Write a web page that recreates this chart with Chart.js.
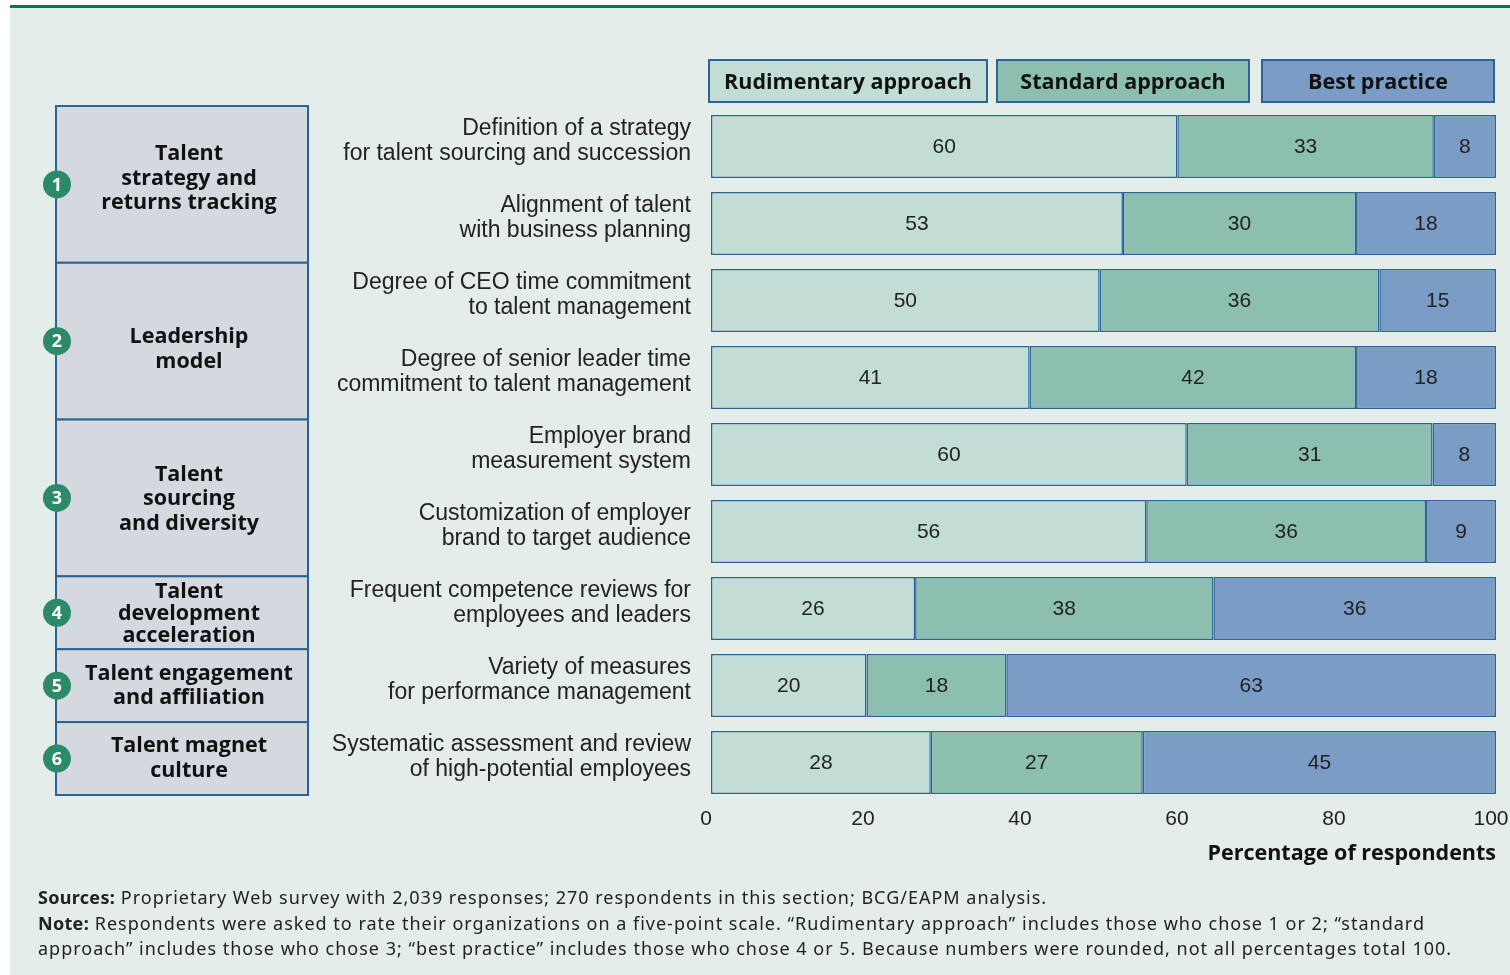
<!DOCTYPE html>
<html lang="en">
<head>
    <meta charset="utf-8" />
    <title>Talent management practices</title>
    <script src="https://cdn.jsdelivr.net/npm/chart.js"></script>
    <style>
        body { margin: 0; background: #fff; }
        #wrap { position: relative; width: 1510px; height: 975px; }
        #note {
            position: absolute; left: 38px; top: 885px; width: 1470px;
            font: 18px "Noto Sans", sans-serif; letter-spacing: 1px; line-height: 25.5px; color: #222;
        }
        #note b { font-weight: 700; letter-spacing: 0.3px; }
    </style>
</head>
<body>
<div id="wrap">
    <canvas id="myChart" width="1510" height="975"></canvas>
    <div id="note">
        <b>Sources:</b> Proprietary Web survey with 2,039 responses; 270 respondents in this section; BCG/EAPM analysis.<br>
        <b>Note:</b> Respondents were asked to rate their organizations on a five-point scale. “Rudimentary approach” includes those who chose 1 or 2; “standard<br>
        approach” includes those who chose 3; “best practice” includes those who chose 4 or 5. Because numbers were rounded, not all percentages total 100.
    </div>
</div>
<script>
    // Chart data
    const categories = [
        ["Definition of a strategy", "for talent sourcing and succession"],
        ["Alignment of talent", "with business planning"],
        ["Degree of CEO time commitment", "to talent management"],
        ["Degree of senior leader time", "commitment to talent management"],
        ["Employer brand", "measurement system"],
        ["Customization of employer", "brand to target audience"],
        ["Frequent competence reviews for", "employees and leaders"],
        ["Variety of measures", "for performance management"],
        ["Systematic assessment and review", "of high-potential employees"]
    ];
    const rudimentary = [60, 53, 50, 41, 60, 56, 26, 20, 28];
    const standard = [33, 30, 36, 42, 31, 36, 38, 18, 27];
    const bestPractice = [8, 18, 15, 18, 8, 9, 36, 63, 45];
    const seriesNames = ["Rudimentary approach", "Standard approach", "Best practice"];
    const tickValues = [0, 20, 40, 60, 80, 100];
    const axisTitle = "Percentage of respondents";

    // left-hand groups: label lines and how many rows each spans
    const groupLabels = [
        ["Talent", "strategy and", "returns tracking"],
        ["Leadership", "model"],
        ["Talent", "sourcing", "and diversity"],
        ["Talent", "development", "acceleration"],
        ["Talent engagement", "and affiliation"],
        ["Talent magnet", "culture"]
    ];
    const groupRows = [2, 2, 2, 1, 1, 1];

    const colors = ['#c2ddd6', '#8dbfb1', '#7b9cc4'];
    const edge = '#2a6496';
    const boldFont = '"Open Sans", sans-serif';
    const plainFont = '"Liberation Sans", Arial, sans-serif';

    // bars are drawn as shares of each row's total, so every row fills the width
    const totals = rudimentary.map((v, i) => v + standard[i] + bestPractice[i]);
    const share = arr => arr.map((v, i) => v / totals[i] * 100);

    const background = {
        id: 'background',
        beforeDraw(chart) {
            const ctx = chart.ctx;
            ctx.save();
            ctx.fillStyle = '#fff';
            ctx.fillRect(0, 0, chart.width, chart.height);
            ctx.fillStyle = '#e4edea';
            ctx.fillRect(10, 8, chart.width - 10, chart.height - 8);
            ctx.fillStyle = '#0b7350';
            ctx.fillRect(10, 5, chart.width - 10, 3);
            ctx.restore();
        }
    };

    const legendBoxes = {
        id: 'legendBoxes',
        afterDraw(chart) {
            const ctx = chart.ctx;
            const ca = chart.chartArea;
            const widths = [278, 252, 232];
            const gaps = [10, 13];
            let x = ca.left - 2;
            ctx.save();
            ctx.font = '700 21.5px ' + boldFont;
            ctx.textAlign = 'center';
            ctx.textBaseline = 'middle';
            seriesNames.forEach((name, i) => {
                ctx.fillStyle = colors[i];
                ctx.fillRect(x, 60, widths[i], 42);
                ctx.strokeStyle = edge;
                ctx.lineWidth = 2;
                ctx.strokeRect(x, 60, widths[i], 42);
                ctx.fillStyle = '#111';
                ctx.fillText(name, x + widths[i] / 2, 83);
                x += widths[i] + (gaps[i] || 0);
            });
            ctx.restore();
        }
    };

    const groupBoxes = {
        id: 'groupBoxes',
        afterDraw(chart) {
            const ctx = chart.ctx;
            const ca = chart.chartArea;
            // two-row boxes are a little taller than single-row ones
            const weights = groupRows.map(r => r === 1 ? 73 : 157);
            const top0 = ca.top - 2;
            const span = ca.bottom - 6 - top0;
            const sum = weights.reduce((a, b) => a + b, 0);
            const textShift = [-6, 8, 1, 1, 0, 0];
            let top = top0;
            ctx.save();
            groupLabels.forEach((lines, g) => {
                const h = weights[g] / sum * span;
                const bottom = top + h;
                ctx.fillStyle = '#d3d9de';
                ctx.fillRect(56, top, 252, h);
                ctx.strokeStyle = edge;
                ctx.lineWidth = 2;
                ctx.strokeRect(56, top, 252, h);
                const mid = (top + bottom) / 2;
                const lh = Math.min(24.5, (h - 6) / lines.length);
                ctx.fillStyle = '#111';
                ctx.font = '700 21.5px ' + boldFont;
                ctx.textAlign = 'center';
                ctx.textBaseline = 'middle';
                lines.forEach((t, k) => {
                    ctx.fillText(t, 189, mid + textShift[g] + (k - (lines.length - 1) / 2) * lh);
                });
                ctx.beginPath();
                ctx.arc(57, mid, 14, 0, Math.PI * 2);
                ctx.fillStyle = '#2c8a68';
                ctx.fill();
                ctx.fillStyle = '#fff';
                ctx.font = 'bold 18px ' + boldFont;
                ctx.fillText(String(g + 1), 57, mid + 1);
                top = bottom;
            });
            ctx.restore();
        }
    };

    const valueLabels = {
        id: 'valueLabels',
        afterDatasetsDraw(chart) {
            const ctx = chart.ctx;
            ctx.save();
            ctx.font = '21px ' + plainFont;
            ctx.fillStyle = '#222';
            ctx.textAlign = 'center';
            ctx.textBaseline = 'middle';
            chart.data.datasets.forEach((ds, d) => {
                chart.getDatasetMeta(d).data.forEach((bar, i) => {
                    ctx.fillText(String(ds.values[i]), (bar.x + bar.base) / 2, bar.y + 1);
                });
            });
            ctx.restore();
        }
    };

    const ctx = document.getElementById('myChart').getContext('2d');
    const myChart = new Chart(ctx, {
        type: 'bar',
        data: {
            labels: categories,
            datasets: [
                { label: seriesNames[0], data: share(rudimentary), values: rudimentary, backgroundColor: colors[0] },
                { label: seriesNames[1], data: share(standard), values: standard, backgroundColor: colors[1] },
                { label: seriesNames[2], data: share(bestPractice), values: bestPractice, backgroundColor: colors[2] }
            ].map(ds => Object.assign(ds, {
                borderColor: edge,
                borderWidth: 1.5,
                borderSkipped: false,
                barPercentage: 0.82,
                categoryPercentage: 1
            }))
        },
        options: {
            indexAxis: 'y',
            responsive: false,
            animation: false,
            devicePixelRatio: 1,
            layout: { padding: { top: 108, left: 0, right: 14, bottom: 108 } },
            plugins: {
                legend: { display: false },
                title: { display: false },
                tooltip: { enabled: false }
            },
            scales: {
                x: {
                    stacked: true,
                    min: 0,
                    max: 100,
                    grid: { display: false, drawTicks: false },
                    border: { display: false },
                    afterBuildTicks: axis => { axis.ticks = tickValues.map(v => ({ value: v })); },
                    afterFit: axis => {
                        axis.height = 66;
                        axis.paddingLeft = 0;
                        axis.paddingRight = 0;
                    },
                    ticks: {
                        padding: 6,
                        labelOffset: -5,
                        color: '#222',
                        font: { family: plainFont, size: 21 }
                    },
                    title: {
                        display: true,
                        text: axisTitle,
                        align: 'end',
                        color: '#111',
                        padding: 0,
                        font: { family: boldFont, size: 21.5, weight: '700' }
                    }
                },
                y: {
                    stacked: true,
                    grid: { display: false, drawTicks: false },
                    border: { display: false },
                    afterFit: axis => { axis.width = 711; },
                    ticks: {
                        padding: 20,
                        labelOffset: -5,
                        color: '#222',
                        font: { family: plainFont, size: 23, lineHeight: 1.08 }
                    }
                }
            }
        },
        plugins: [background, legendBoxes, groupBoxes, valueLabels]
    });
</script>
</body>
</html>
